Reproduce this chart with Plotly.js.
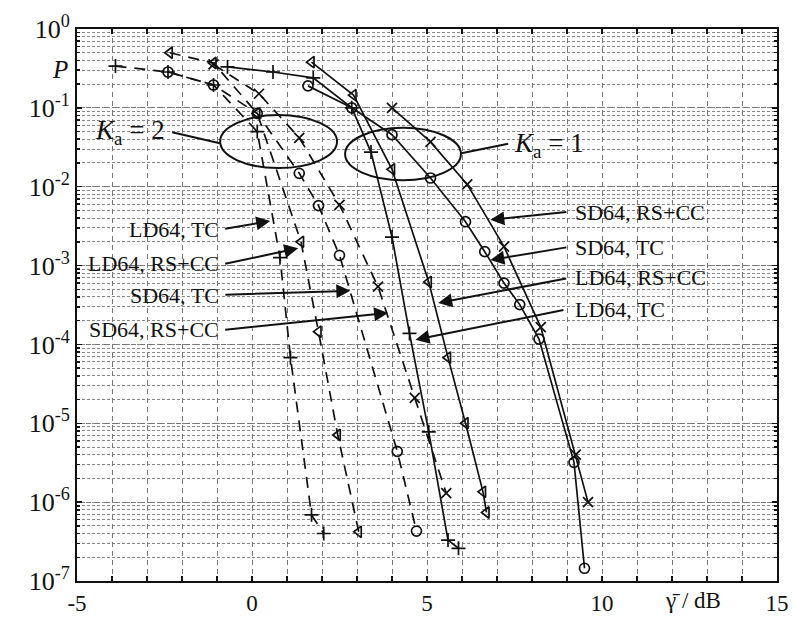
<!DOCTYPE html>
<html>
<head>
<meta charset="utf-8">
<script src="https://cdn.plot.ly/plotly-3.0.1.min.js"></script>
<style>
  body { margin: 0; background: #fff; }
  #chart { width: 793px; height: 617px; }
</style>
</head>
<body>
<div id="chart"></div>
<script>
// K_a = 1 (solid lines)
var ld64TcK1X = [-0.7, 0.6, 1.75, 2.85, 3.4, 4.0, 4.5, 5.05, 5.6, 5.9];
var ld64TcK1P = [0.331, 0.285, 0.24, 0.1, 0.0275, 2.3e-3, 1.38e-4, 7.8e-6, 3.3e-7, 2.6e-7];

var ld64RsK1X = [1.7, 2.9, 4.0, 5.05, 5.6, 6.1, 6.6, 6.7];
var ld64RsK1P = [0.38, 0.145, 0.0166, 6.2e-4, 6.8e-5, 1.0e-5, 1.35e-6, 7.4e-7];

var sd64TcK1X = [1.6, 2.85, 4.0, 5.1, 6.1, 6.65, 7.2, 7.65, 8.2, 9.2, 9.5];
var sd64TcK1P = [0.19, 0.1, 0.0457, 0.0129, 3.6e-3, 1.5e-3, 6.0e-4, 3.2e-4, 1.17e-4, 3.2e-6, 1.45e-7];

var sd64RsK1X = [4.0, 5.1, 6.15, 7.2, 8.25, 9.25, 9.6];
var sd64RsK1P = [0.1, 0.037, 0.0107, 1.74e-3, 1.66e-4, 4.0e-6, 1.0e-6];

// K_a = 2 (dashed lines)
var ld64TcK2X = [-3.9, -2.4, -1.1, 0.15, 0.8, 1.1, 1.7, 2.05];
var ld64TcK2P = [0.339, 0.285, 0.195, 0.05, 1.26e-3, 6.8e-5, 6.9e-7, 4.0e-7];

var ld64RsK2X = [-2.35, -1.1, 0.15, 1.4, 1.9, 2.45, 3.05];
var ld64RsK2P = [0.5, 0.37, 0.085, 2.0e-3, 1.45e-4, 7.1e-6, 4.2e-7];

var sd64TcK2X = [-2.4, -1.1, 0.15, 1.35, 1.9, 2.5, 4.15, 4.7];
var sd64TcK2P = [0.285, 0.195, 0.085, 0.0148, 5.75e-3, 1.35e-3, 4.4e-6, 4.3e-7];

var sd64RsK2X = [-1.1, 0.2, 1.35, 2.5, 3.6, 4.65, 5.55];
var sd64RsK2P = [0.355, 0.151, 0.0417, 5.9e-3, 5.4e-4, 2.1e-5, 1.3e-6];

var xTicks = [];
var xTickText = [];
for (var v = -5; v <= 15; v++) {
  xTicks.push(v);
  xTickText.push(v % 5 === 0 ? String(v) : '');
}
var yTicks = [1, 1e-1, 1e-2, 1e-3, 1e-4, 1e-5, 1e-6, 1e-7];
var yTickText = ['10<sup>0</sup>', '10<sup>-1</sup>', '10<sup>-2</sup>', '10<sup>-3</sup>',
  '10<sup>-4</sup>', '10<sup>-5</sup>', '10<sup>-6</sup>', '10<sup>-7</sup>'];

function curve(x, y, symbol, dashed) {
  return {
    x: x, y: y, type: 'scatter', mode: 'lines+markers',
    line: { color: '#111', width: 1.7, dash: dashed ? '11px,8px' : 'solid' },
    marker: { symbol: symbol, size: 10, color: '#111', line: { color: '#111', width: 1.7 } },
    hoverinfo: 'skip'
  };
}

var data = [
  curve(ld64TcK1X, ld64TcK1P, 'cross-thin-open', false),
  curve(ld64RsK1X, ld64RsK1P, 'triangle-left-open', false),
  curve(sd64TcK1X, sd64TcK1P, 'circle-open', false),
  curve(sd64RsK1X, sd64RsK1P, 'x-thin-open', false),
  curve(ld64TcK2X, ld64TcK2P, 'cross-thin-open', true),
  curve(ld64RsK2X, ld64RsK2P, 'triangle-left-open', true),
  curve(sd64TcK2X, sd64TcK2P, 'circle-open', true),
  curve(sd64RsK2X, sd64RsK2P, 'x-thin-open', true)
];

var serif = "'Liberation Serif', 'Times New Roman', serif";

function arrow(x, ly, ax, ay) {
  return {
    x: x, y: ly, xref: 'x', yref: 'y', ax: ax, ay: ay, text: ' ',
    showarrow: true, arrowhead: 2, arrowsize: 1.4, arrowwidth: 2,
    arrowcolor: '#111', standoff: 0, font: { size: 2 }
  };
}
function label(text, x, y, anchor) {
  return {
    text: text, x: x, y: y, xref: 'paper', yref: 'paper',
    xanchor: anchor, yanchor: 'middle', showarrow: false,
    font: { family: serif, size: 22, color: '#111' }
  };
}

var annotations = [
  label('LD64, TC', 0.206, 0.636, 'right'),
  label('LD64, RS+CC', 0.206, 0.576, 'right'),
  label('SD64, TC', 0.206, 0.518, 'right'),
  label('SD64, RS+CC', 0.206, 0.455, 'right'),
  label('SD64, RS+CC', 0.708, 0.668, 'left'),
  label('SD64, TC', 0.708, 0.605, 'left'),
  label('LD64, RS+CC', 0.708, 0.549, 'left'),
  label('LD64, TC', 0.708, 0.491, 'left'),
  arrow(0.52, -2.435, -47, 8),
  arrow(1.32, -2.78, -75, 16),
  arrow(2.81, -3.32, -127, 4),
  arrow(3.89, -3.6, -165, 17),
  arrow(6.81, -2.42, 78, -8),
  arrow(6.81, -2.93, 78, -13),
  arrow(5.32, -3.475, 130, -25),
  arrow(4.67, -3.94, 150, -30),
  {
    text: '<i>K</i><sub>a</sub> = 2', x: 0.128, y: 0.813, xref: 'paper', yref: 'paper',
    xanchor: 'right', yanchor: 'middle', showarrow: false,
    font: { family: serif, size: 27, color: '#111' }
  },
  {
    text: '<i>K</i><sub>a</sub> = 1', x: 0.622, y: 0.79, xref: 'paper', yref: 'paper',
    xanchor: 'left', yanchor: 'middle', showarrow: false,
    font: { family: serif, size: 27, color: '#111' }
  },
  {
    text: '<i>P</i>', x: -0.01, y: 0.926, xref: 'paper', yref: 'paper',
    xanchor: 'right', yanchor: 'middle', showarrow: false,
    font: { family: serif, size: 25, color: '#111' }
  },
  {
    text: 'γ\u0304 / dB', x: 0.88, y: -0.036, xref: 'paper', yref: 'paper',
    xanchor: 'center', yanchor: 'middle', showarrow: false,
    font: { family: serif, size: 23, color: '#111' }
  }
];

var shapes = [
  { type: 'circle', xref: 'x', yref: 'paper', x0: -0.91, x1: 2.43, y0: 0.748, y1: 0.844,
    line: { color: '#111', width: 2 } },
  { type: 'circle', xref: 'x', yref: 'paper', x0: 2.66, x1: 5.97, y0: 0.726, y1: 0.821,
    line: { color: '#111', width: 2 } },
  { type: 'line', xref: 'paper', yref: 'paper', x0: 0.136, y0: 0.813, x1: 0.204, y1: 0.793,
    line: { color: '#111', width: 2 } },
  { type: 'line', xref: 'paper', yref: 'paper', x0: 0.549, y0: 0.775, x1: 0.616, y1: 0.792,
    line: { color: '#111', width: 2 } }
];

var layout = {
  width: 793, height: 617,
  margin: { l: 77, r: 16, t: 29, b: 36 },
  paper_bgcolor: '#fff', plot_bgcolor: '#fff',
  showlegend: false,
  font: { family: serif, size: 24, color: '#111' },
  xaxis: {
    range: [-5, 15], tickvals: xTicks, ticktext: xTickText,
    ticks: 'inside', ticklen: 5, tickwidth: 1.5, tickcolor: '#111',
    showline: true, linecolor: '#111', linewidth: 2, mirror: 'allticks',
    showgrid: true, gridcolor: '#777', gridwidth: 1, griddash: '5px,4px',
    zeroline: false, tickfont: { family: serif, size: 23 }
  },
  yaxis: {
    type: 'log', range: [-7, 0], tickvals: yTicks, ticktext: yTickText,
    ticks: 'inside', ticklen: 5, tickwidth: 1.5, tickcolor: '#111',
    showline: true, linecolor: '#111', linewidth: 2, mirror: 'allticks',
    showgrid: true, gridcolor: '#777', gridwidth: 1, griddash: '5px,4px',
    zeroline: false, tickfont: { family: serif, size: 26 },
    minor: {
      dtick: 'D1', ticks: 'inside', ticklen: 3, tickcolor: '#111',
      showgrid: true, gridcolor: '#888', gridwidth: 1, griddash: '3px,2px'
    }
  },
  annotations: annotations,
  shapes: shapes
};

Plotly.newPlot('chart', data, layout, { displayModeBar: false, staticPlot: true });
</script>
</body>
</html>
